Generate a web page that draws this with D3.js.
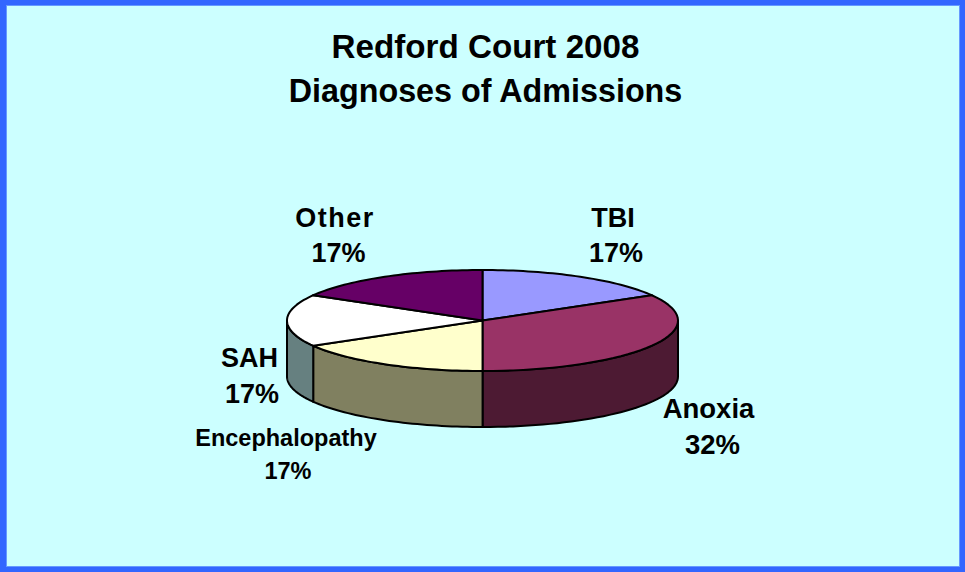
<!DOCTYPE html>
<html>
<head>
<meta charset="utf-8">
<script src="https://cdn.jsdelivr.net/npm/d3@7"></script>
<style>
    html, body { margin: 0; padding: 0; background: #ccffff; }
    svg { display: block; }
    text { font-family: "Liberation Sans", Arial, sans-serif; font-weight: bold; fill: #000; }
</style>
</head>
<body>
<div id="chart"></div>
<script>
const titleLines = ["Redford Court 2008", "Diagnoses of Admissions"];
const categories = ["TBI", "Anoxia", "Encephalopathy", "SAH", "Other"];
// share of the circle as drawn (the printed labels are rounded differently)
const sliceShares = [16.67, 33.33, 16.67, 16.67, 16.67];
const percentLabels = ["17%", "32%", "17%", "17%", "17%"];
const topColors = ["#9999ff", "#993366", "#ffffcc", "#ffffff", "#660066"];
const sideColors = ["#66668c", "#4d1a33", "#808060", "#668080", "#330033"];

const width = 965, height = 572;

const svg = d3.select("#chart").append("svg")
    .attr("width", width)
    .attr("height", height);

//background and blue frame
svg.append("rect")
    .attr("x", 0).attr("y", 0)
    .attr("width", width).attr("height", height)
    .attr("fill", "#3366ff");
svg.append("rect")
    .attr("x", 6.5).attr("y", 5.5)
    .attr("width", width - 12).attr("height", height - 11)
    .attr("fill", "#ccffff")
    .attr("stroke", "#6699ff")
    .attr("stroke-width", 1);

//title
const titleSize = [33.2, 32.3];
svg.selectAll(".title")
    .data(titleLines)
    .enter().append("text")
    .attr("class", "title")
    .attr("x", 485.5)
    .attr("y", (d, i) => 57.5 + i * 44)
    .attr("text-anchor", "middle")
    .attr("font-size", (d, i) => titleSize[i])
    .text(d => d);

//the pie is a flat circle squashed through two scales
const xScale = d3.scaleLinear().domain([-1, 1]).range([287, 678]);
const yScale = d3.scaleLinear().domain([-1, 1]).range([270, 371]);
const depth = 56;

const pie = d3.pie().sort(null);
const slices = pie(sliceShares);

const rim = a => [xScale(Math.sin(a)), yScale(-Math.cos(a))];
const angleSteps = (a0, a1) => d3.range(0, 41).map(i => a0 + (a1 - a0) * i / 40);
const line = d3.line();

//side walls, only the part facing the viewer (quarter to three quarters)
const pieGroup = svg.append("g")
    .attr("stroke", "#000")
    .attr("stroke-width", 2)
    .attr("stroke-linejoin", "round");

slices.forEach((s, i) => {
    const a0 = Math.max(s.startAngle, Math.PI / 2);
    const a1 = Math.min(s.endAngle, Math.PI * 1.5);
    if (a1 <= a0) return;
    const upper = angleSteps(a0, a1).map(rim);
    const lower = upper.slice().reverse().map(p => [p[0], p[1] + depth]);
    pieGroup.append("path")
        .attr("d", line(upper.concat(lower)) + "Z")
        .attr("fill", sideColors[i]);
});

//top face
slices.forEach((s, i) => {
    const points = [[xScale(0), yScale(0)]].concat(angleSteps(s.startAngle, s.endAngle).map(rim));
    pieGroup.append("path")
        .attr("d", line(points) + "Z")
        .attr("fill", topColors[i]);
});

//labels: name on top, percentage under it
const nameX = [613, 708.5, 286, 249.5, 335];
const nameY = [227, 418, 446, 367, 227];
const percentX = [616, 712.5, 288, 252, 338.5];
const percentY = [262, 454, 479, 403, 262];
const labelSize = [27, 27.5, 23.5, 27, 27];
const nameSpacing = [0, 0, 0, 0, 1.5];

categories.forEach((name, i) => {
    const g = svg.append("g")
        .attr("font-size", labelSize[i])
        .attr("text-anchor", "middle");
    g.append("text")
        .attr("x", nameX[i]).attr("y", nameY[i])
        .attr("letter-spacing", nameSpacing[i])
        .text(name);
    g.append("text")
        .attr("x", percentX[i]).attr("y", percentY[i])
        .text(percentLabels[i]);
});
</script>
</body>
</html>
